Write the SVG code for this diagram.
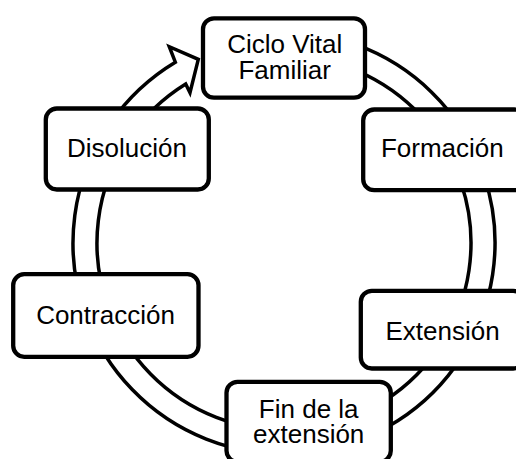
<svg xmlns="http://www.w3.org/2000/svg" width="516" height="459" viewBox="0 0 516 459">
<style>
.node rect{fill:#fff;stroke:#000;stroke-width:4.3}
.node text{font-family:"Liberation Sans",Arial,sans-serif;font-size:26px;fill:#000;text-anchor:middle}
.ring{fill:#fff;stroke:#000;stroke-width:3.5;stroke-linejoin:miter}
</style>
<rect width="516" height="459" fill="#fff"/>
<g id="connectors">
<path class="ring" d="M 356.17,44.73 A 211 211 0 1 1 175.33,62.14 L 169.3,46.7 L 198.3,59.3 L 190,92.7 L 185.7,83.9 A 187 187 0 1 0 347.96,67.28 Z"/>
</g>
<g id="n-ciclo" class="node"><rect x="203" y="18.3" width="162" height="79.4" rx="11"/><text x="284.7" y="53.3">Ciclo Vital</text><text x="284.7" y="79">Familiar</text></g>
<g id="n-formacion" class="node"><rect x="363.2" y="109.5" width="162" height="80.7" rx="11"/><text x="442.3" y="157.3">Formación</text></g>
<g id="n-extension" class="node"><rect x="360.8" y="290.8" width="163.4" height="77.7" rx="11"/><text x="442.5" y="340">Extensión</text></g>
<g id="n-fin" class="node"><rect x="226.5" y="381.8" width="164.3" height="80" rx="11"/><text x="308.7" y="418.3">Fin de la</text><text x="308.7" y="442.7">extensión</text></g>
<g id="n-contraccion" class="node"><rect x="13.2" y="274.2" width="185.3" height="82.6" rx="11"/><text x="105.5" y="324">Contracción</text></g>
<g id="n-disolucion" class="node"><rect x="45.8" y="108.5" width="163" height="81" rx="11"/><text x="127" y="157.3">Disolución</text></g>
</svg>
